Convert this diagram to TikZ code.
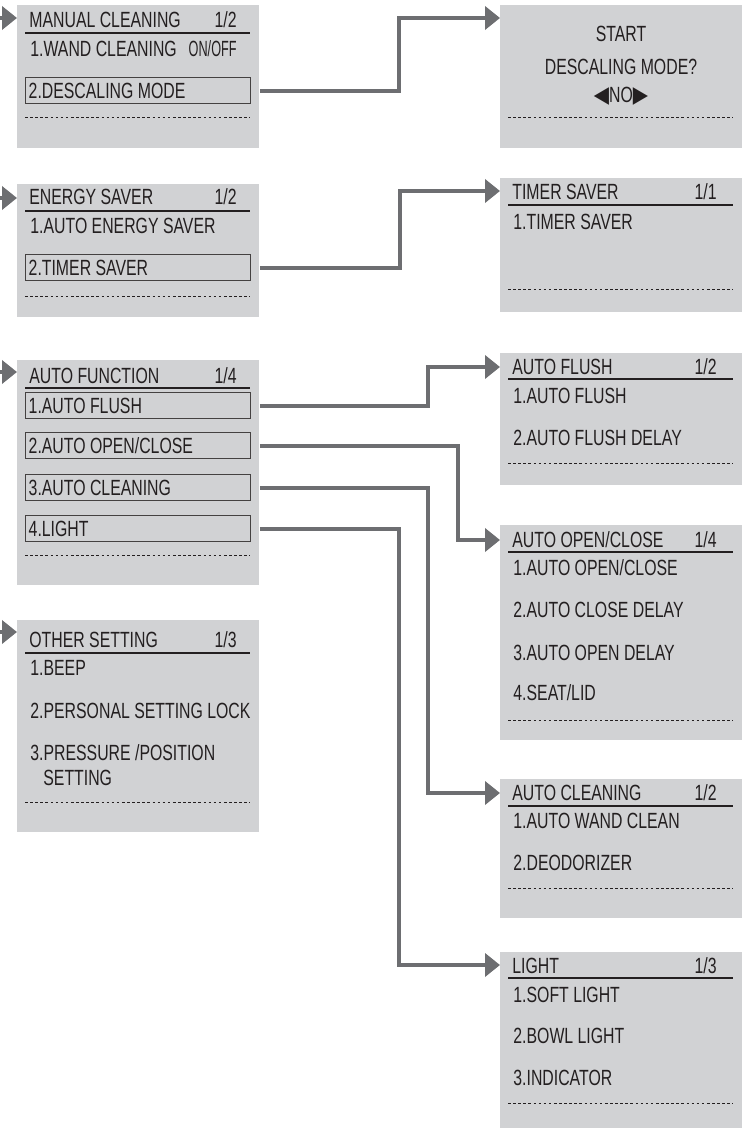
\documentclass[tikz,border=0pt]{standalone}
\usepackage{fontspec}
\setmainfont[FakeStretch=0.72]{Liberation Sans}
\newfontfamily\symfont{DejaVu Sans}
\usetikzlibrary{arrows.meta}
\definecolor{panelgray}{HTML}{D1D2D4}
\definecolor{linkgray}{HTML}{6D6E71}
\definecolor{ink}{HTML}{231F20}

\begin{document}
\begin{tikzpicture}[x=0.5pt,y=-0.5pt,>={Triangle[length=7.5pt,width=11.5pt]},
  panel/.style={fill=panelgray, inner sep=0pt, anchor=north west, minimum width=121pt, minimum height=#1},
  txt/.style={anchor=base west, inner sep=0pt, text=ink, font=\fontsize{11}{13.2}\selectfont},
  num/.style={txt, anchor=base east},
  mid/.style={txt, anchor=base},
  item/.style={draw=ink!85, line width=0.7pt, anchor=north west, minimum width=112.5pt,
    text width=109.5pt, inner xsep=1.5pt, inner ysep=0pt, minimum height=13pt,
    text height=7.9pt, text depth=0pt, align=flush left, text=ink, font=\fontsize{11}{13.2}\selectfont},
  rule/.style={ink, line width=1pt},
  dots/.style={ink, line width=0.5pt, dash pattern=on 1.3pt off 1.25pt},
  link/.style={->, linkgray, line width=2pt}]
  \useasboundingbox (0,0) rectangle (742,1128);

  % screens
  \node[panel=71.5pt] (L1) at (17,5) {};
  \node[panel=66.5pt] (L2) at (17,184) {};
  \node[panel=112.5pt] (L3) at (17,360) {};
  \node[panel=106pt] (L4) at (17,620) {};
  \node[panel=71.5pt] (R1) at (500,5) {};
  \node[panel=67pt] (R2) at (500,178) {};
  \node[panel=66pt] (R3) at (500,353) {};
  \node[panel=107.5pt] (R4) at (500,525) {};
  \node[panel=69.5pt] (R5) at (500,779) {};
  \node[panel=88pt] (R6) at (500,952) {};

  % manual cleaning
  \node[txt] (mcT) at (29,28) {MANUAL CLEANING};
  \node[num] (mcN) at (237,28) {1/2};
  \draw[rule] (25,33) -- (250,33);
  \node[txt] (mcA) at (30,57) {1.WAND CLEANING};
  \node[num] (mcOn) at (237,57) {\scalebox{0.8}[1]{ON/OFF}};
  \node[item] (mcB) at (25,77) {2.DESCALING MODE};
  \draw[dots] (25,118) -- (250,118);

  % energy saver
  \node[txt] (esT) at (29,205) {ENERGY SAVER};
  \node[num] (esN) at (237,205) {1/2};
  \draw[rule] (25,211) -- (250,211);
  \node[txt] (esA) at (30,234) {1.AUTO ENERGY SAVER};
  \node[item] (esB) at (25,254) {2.TIMER SAVER};
  \draw[dots] (25,297) -- (250,297);

  % auto function
  \node[txt] (afT) at (29,383) {AUTO FUNCTION};
  \node[num] (afN) at (237,383) {1/4};
  \draw[rule] (25,388) -- (250,388);
  \node[item] (af1) at (25,392) {1.AUTO FLUSH};
  \node[item] (af2) at (25,432) {2.AUTO OPEN/CLOSE};
  \node[item] (af3) at (25,474) {3.AUTO CLEANING};
  \node[item] (af4) at (25,515) {4.LIGHT};
  \draw[dots] (25,555) -- (250,555);

  % other setting
  \node[txt] (osT) at (29,647) {OTHER SETTING};
  \node[num] (osN) at (237,647) {1/3};
  \draw[rule] (25,653) -- (250,653);
  \node[txt] (os1) at (30,675) {1.BEEP};
  \node[txt] (os2) at (30,718) {2.PERSONAL SETTING LOCK};
  \node[txt] (os3) at (30,760) {3.PRESSURE /POSITION};
  \node[txt] (os3b) at (43,785) {SETTING};
  \draw[dots] (25,802) -- (250,802);

  % descaling question
  \node[mid] (dqA) at (621,42) {START};
  \node[mid] (dqB) at (621,75) {DESCALING MODE?};
  \node[mid] (dqC) at (621,103) {{\symfont\scalebox{0.9}[1.05]{◀}}NO{\symfont\scalebox{0.9}[1.05]{▶}}};
  \draw[dots] (508,118) -- (733,118);

  % timer saver
  \node[txt] (tsT) at (512,200) {TIMER SAVER};
  \node[num] (tsN) at (717,200) {1/1};
  \draw[rule] (508,205) -- (733,205);
  \node[txt] (ts1) at (513,230) {1.TIMER SAVER};
  \draw[dots] (508,290) -- (733,290);

  % auto flush
  \node[txt] (flT) at (512,374) {AUTO FLUSH};
  \node[num] (flN) at (717,374) {1/2};
  \draw[rule] (508,379) -- (733,379);
  \node[txt] (fl1) at (513,403) {1.AUTO FLUSH};
  \node[txt] (fl2) at (513,445) {2.AUTO FLUSH DELAY};
  \draw[dots] (508,463) -- (733,463);

  % auto open/close
  \node[txt] (ocT) at (512,547) {AUTO OPEN/CLOSE};
  \node[num] (ocN) at (717,547) {1/4};
  \draw[rule] (508,552) -- (733,552);
  \node[txt] (oc1) at (513,575) {1.AUTO OPEN/CLOSE};
  \node[txt] (oc2) at (513,617) {2.AUTO CLOSE DELAY};
  \node[txt] (oc3) at (513,660) {3.AUTO OPEN DELAY};
  \node[txt] (oc4) at (513,700) {4.SEAT/LID};
  \draw[dots] (508,720) -- (733,720);

  % auto cleaning
  \node[txt] (clT) at (512,800) {AUTO CLEANING};
  \node[num] (clN) at (717,800) {1/2};
  \draw[rule] (508,806) -- (733,806);
  \node[txt] (cl1) at (513,828) {1.AUTO WAND CLEAN};
  \node[txt] (cl2) at (513,870) {2.DEODORIZER};
  \draw[dots] (508,888) -- (733,888);

  % light
  \node[txt] (liT) at (512,973) {LIGHT};
  \node[num] (liN) at (717,973) {1/3};
  \draw[rule] (508,978) -- (733,978);
  \node[txt] (li1) at (513,1002) {1.SOFT LIGHT};
  \node[txt] (li2) at (513,1043) {2.BOWL LIGHT};
  \node[txt] (li3) at (513,1085) {3.INDICATOR};
  \draw[dots] (508,1103) -- (733,1103);

  % entry points
  \coordinate (in1) at (0,18);
  \coordinate (in2) at (0,198);
  \coordinate (in3) at (0,372);
  \coordinate (in4) at (0,632);
  \coordinate (to1) at (500,18);
  \coordinate (to2) at (500,191);
  \coordinate (to3) at (500,367);
  \coordinate (to4) at (500,540);
  \coordinate (to5) at (500,793);
  \coordinate (to6) at (500,965);

  \draw[link] (in1) -- (L1.west |- in1);
  \draw[link] (in2) -- (L2.west |- in2);
  \draw[link] (in3) -- (L3.west |- in3);
  \draw[link] (in4) -- (L4.west |- in4);

  \draw[link] (L1.east |- mcB) -- ++(139,0) |- (to1);
  \draw[link] (L2.east |- esB) -- ++(140,0) |- (to2);
  \draw[link] (L3.east |- af1) -- ++(168,0) |- (to3);
  \draw[link] (L3.east |- af2) -- ++(198,0) |- (to4);
  \draw[link] (L3.east |- af3) -- ++(168,0) |- (to5);
  \draw[link] (L3.east |- af4) -- ++(139,0) |- (to6);
\end{tikzpicture}
\end{document}
